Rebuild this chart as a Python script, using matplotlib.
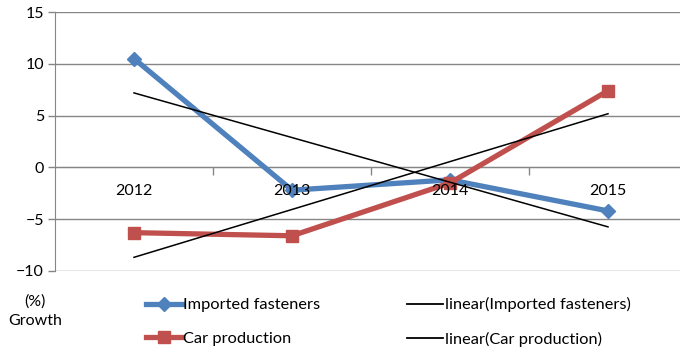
import numpy as np
import matplotlib
matplotlib.use("Agg")
import matplotlib.pyplot as plt
from matplotlib.lines import Line2D

years = ["2012", "2013", "2014", "2015"]
imported_fasteners = [10.5, -2.2, -1.2, -4.2]
car_production = [-6.3, -6.6, -1.5, 7.4]
y_ticks = [-10, -5, 0, 5, 10, 15]

plt.rcParams["font.family"] = ["Lato", "DejaVu Sans"]
plt.rcParams["font.size"] = 11.5

blue = "#4F81BD"
red = "#C0504D"
grid_col = "#868686"

fig = plt.figure(figsize=(6.8, 3.52), dpi=100)
ax = fig.add_axes([55 / 680, 1 - 271 / 352, 632 / 680, 259 / 352])

x = np.arange(len(years)) + 0.5
xn = np.arange(1, len(years) + 1)


def trend(vals):
    slope, icpt = np.polyfit(xn, vals, 1)
    return slope * xn + icpt


# gridlines below everything, tick labels above the data lines (like Excel)
for yv in y_ticks:
    ax.axhline(yv, color=grid_col, lw=1, zorder=0.5)

ax.plot(x, imported_fasteners, color=blue, lw=3.8, marker="D", ms=7, zorder=2)
ax.plot(x, car_production, color=red, lw=3.8, marker="s", ms=8, zorder=2)
ax.plot(x, trend(imported_fasteners), color="black", lw=1.1, zorder=2.2)
ax.plot(x, trend(car_production), color="black", lw=1.1, zorder=2.2)

ax.set_axisbelow(False)
ax.set_xlim(0, 4)
ax.set_ylim(-10, 15)
ax.set_yticks(y_ticks)

for s in ["top", "right"]:
    ax.spines[s].set_visible(False)
ax.spines["left"].set_color(grid_col)
ax.spines["bottom"].set_color(grid_col)
ax.spines["bottom"].set_position(("data", 0))
ax.spines["left"].set_zorder(0.6)
ax.spines["bottom"].set_zorder(0.6)

ax.set_xticks(x)
ax.set_xticklabels(years)
ax.set_xticks([1, 2, 3], minor=True)
ax.tick_params(axis="x", which="major", length=0, pad=12)
ax.tick_params(axis="x", which="minor", length=6, color=grid_col, width=1)
ax.tick_params(axis="y", length=5, color=grid_col, width=1, pad=3)

fig.text(35 / 680, 1 - 311 / 352, "(%)\nGrowth", ha="center", va="center",
         fontsize=11.5, linespacing=1.45)

handles = [
    Line2D([], [], color=blue, lw=3.8, marker="D", ms=7),
    Line2D([], [], color=red, lw=3.8, marker="s", ms=8),
    Line2D([], [], color="black", lw=1.3),
    Line2D([], [], color="black", lw=1.3),
]
labels = ["Imported fasteners", "Car production",
          "linear(Imported fasteners)", "linear(Car production)"]
fig.legend(handles, labels, ncol=2, loc="center left",
           bbox_to_anchor=(131 / 680, 1 - 322 / 352), frameon=False,
           fontsize=11.8, handlelength=2.2, handletextpad=0.1,
           columnspacing=5.3, labelspacing=1.18)

fig.savefig("out.png", dpi=100)
